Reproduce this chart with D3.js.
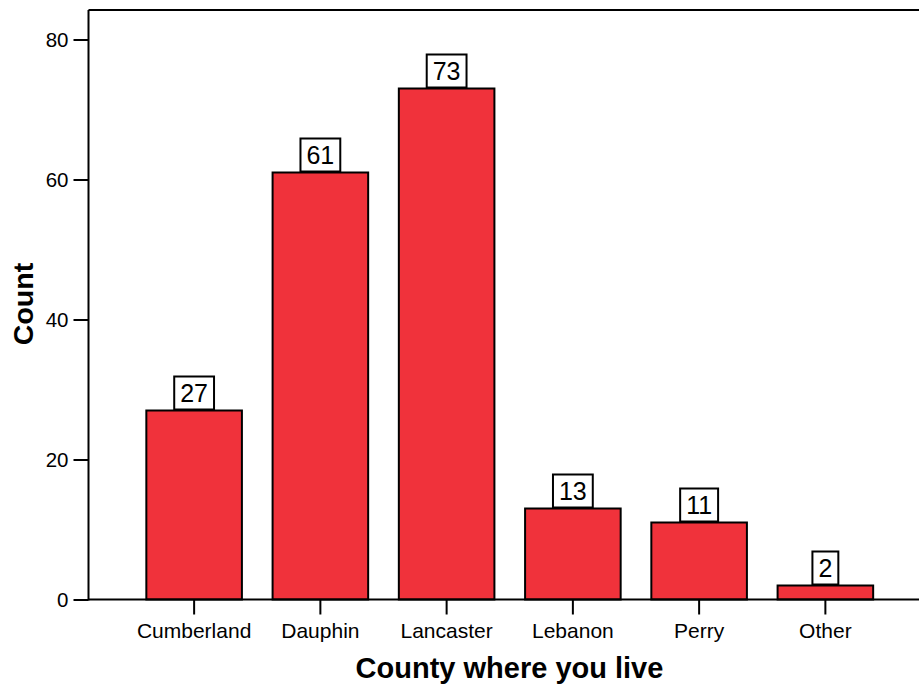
<!DOCTYPE html>
<html>
<head>
<meta charset="utf-8">
<script src="https://cdn.jsdelivr.net/npm/d3@7"></script>
<style>
  html, body { margin: 0; padding: 0; background: #fff; }
  svg { display: block; font-family: "Liberation Sans", Arial, sans-serif; }
</style>
</head>
<body>
<svg id="chart" width="919" height="684"></svg>
<script>
// County of residence counts
const counties = ["Cumberland", "Dauphin", "Lancaster", "Lebanon", "Perry", "Other"];
const counts = [27, 61, 73, 13, 11, 2];
const yTicks = [0, 20, 40, 60, 80];

const svg = d3.select("#chart");
const W = 919, H = 684;
const plotLeft = 88.5, plotBottom = 599.5, plotTop = 10;

const x = d3.scaleBand()
  .domain(counties)
  .range([131, 888.5])
  .paddingInner(0.243)
  .paddingOuter(0.1215);

const y = d3.scaleLinear().domain([0, 80]).range([plotBottom, 39.5]);

// frame: top edge
svg.append("line")
  .attr("x1", plotLeft).attr("x2", W).attr("y1", plotTop).attr("y2", plotTop)
  .attr("stroke", "#000").attr("stroke-width", 2);

// bars
svg.append("g").selectAll("rect")
  .data(counties)
  .join("rect")
  .attr("x", d => x(d))
  .attr("width", x.bandwidth())
  .attr("y", (d, i) => y(counts[i]))
  .attr("height", (d, i) => y(0) - y(counts[i]))
  .attr("fill", "#F0323B")
  .attr("stroke", "#000")
  .attr("stroke-width", 2);

// y axis
const yAxis = svg.append("g")
  .attr("transform", `translate(${plotLeft},0)`)
  .call(d3.axisLeft(y).tickValues(yTicks).tickSize(15).tickPadding(5).tickSizeOuter(0));
yAxis.select(".domain").remove();
yAxis.append("line")
  .attr("x1", 0).attr("x2", 0).attr("y1", plotTop).attr("y2", plotBottom + 1)
  .attr("stroke", "#000").attr("stroke-width", 2);
yAxis.selectAll(".tick line").attr("stroke", "#000").attr("stroke-width", 2);
yAxis.selectAll(".tick text")
  .attr("fill", "#000")
  .style("font-size", "20.5px")
  .style("font-family", "'Liberation Sans', Arial, sans-serif");

// x axis
const xAxis = svg.append("g")
  .attr("transform", `translate(0,${plotBottom})`)
  .call(d3.axisBottom(x).tickSize(15).tickPadding(9).tickSizeOuter(0));
xAxis.select(".domain").remove();
xAxis.append("line")
  .attr("x1", plotLeft).attr("x2", W).attr("y1", 0).attr("y2", 0)
  .attr("stroke", "#000").attr("stroke-width", 2);
xAxis.selectAll(".tick line").attr("stroke", "#000").attr("stroke-width", 2);
xAxis.selectAll(".tick text")
  .attr("fill", "#000")
  .style("font-size", "21px")
  .style("font-family", "'Liberation Sans', Arial, sans-serif");

// value labels in boxed callouts
const labels = svg.append("g").selectAll("g")
  .data(counties)
  .join("g")
  .attr("transform", (d, i) => `translate(${x(d) + x.bandwidth() / 2},${y(counts[i]) - 1})`);

labels.each(function(d, i) {
  const g = d3.select(this);
  const t = g.append("text")
    .attr("text-anchor", "middle")
    .attr("y", -7.5)
    .attr("fill", "#000")
    .style("font-size", "25px")
    .text(counts[i]);
  const bb = t.node().getBBox();
  const w = bb.width + 12, h = 33;
  g.insert("rect", "text")
    .attr("x", -w / 2).attr("y", -h)
    .attr("width", w).attr("height", h)
    .attr("fill", "#fff")
    .attr("stroke", "#000")
    .attr("stroke-width", 2);
});

// axis titles
svg.append("text")
  .attr("x", 509.5).attr("y", 678)
  .attr("text-anchor", "middle")
  .attr("font-weight", "bold")
  .style("font-size", "29px")
  .text("County where you live");

svg.append("text")
  .attr("transform", "translate(33,304) rotate(-90)")
  .attr("text-anchor", "middle")
  .attr("font-weight", "bold")
  .style("font-size", "28.5px")
  .text("Count");
</script>
</body>
</html>
